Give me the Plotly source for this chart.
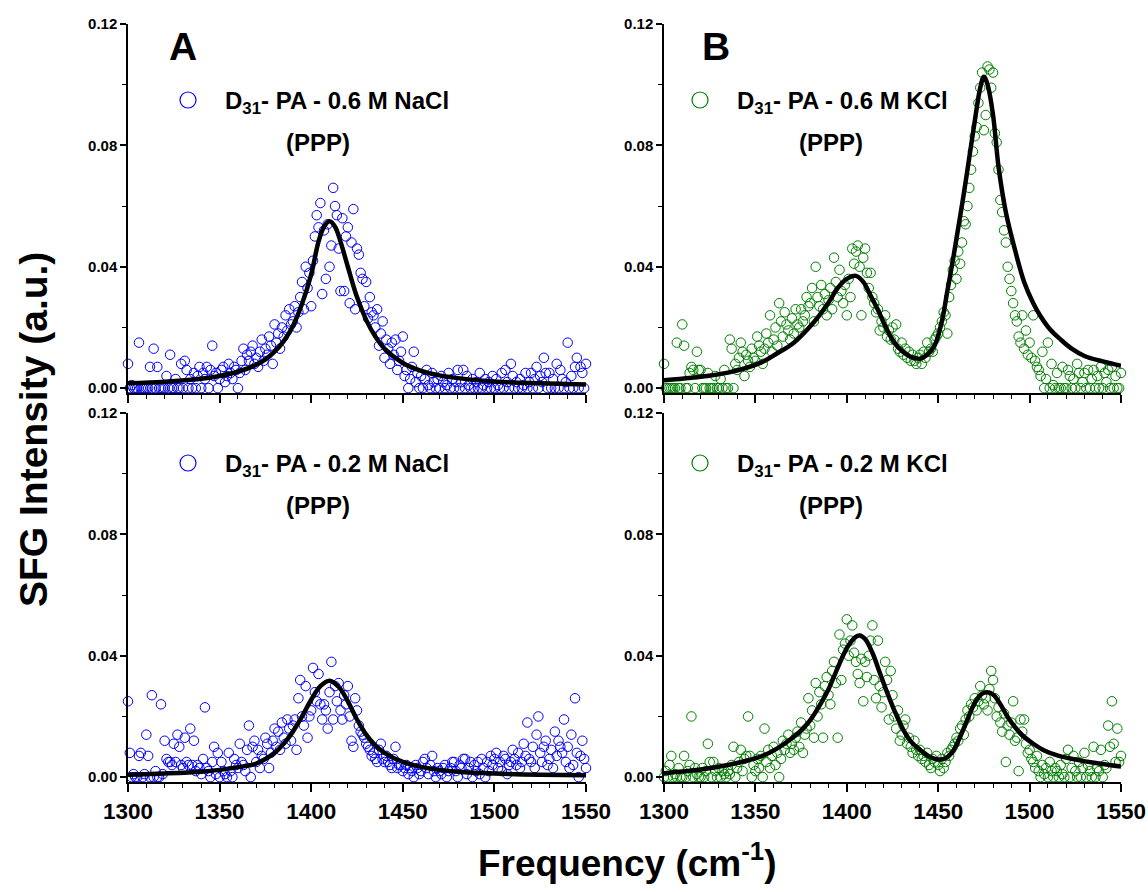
import numpy as np
import plotly.graph_objects as go

# SFG spectra, intensities in units of 1e-3 a.u., one point per cm-1 from 1300
nacl_06 = [
    8, 0, 1, 0, 0, 0, 15, 0, 0, 0,
    0, 0, 7, 0, 13, 0, 7, 0, 0, 0,
    0, 4, 0, 11, 0, 0, 3, 0, 0, 8,
    0, 9, 6, 0, 3, 0, 5, 0, 4, 7,
    0, 5, 3, 7, 0, 6, 14, 4, 5, 0,
    3, 6, 7, 2, 4, 8, 5, 3, 7, 6,
    0, 5, 9, 13, 6, 11, 9, 12, 14, 8,
    10, 7, 12, 16, 9, 13, 11, 17, 14, 8,
    21, 15, 18, 13, 20, 17, 24, 19, 26, 21,
    22, 27, 20, 25, 30, 35, 26, 40, 33, 38,
    27, 42, 50, 57, 53, 61, 31, 52, 36, 54,
    40, 47, 66, 60, 57, 46, 32, 56, 32, 50,
    53, 28, 48, 59, 26, 46, 44, 38, 36, 27,
    35, 23, 30, 25, 24, 20, 26, 14, 18, 22,
    10, 16, 13, 8, 15, 11, 16, 6, 9, 12,
    17, 4, 6, 0, 3, 7, 12, 2, 5, 0,
    4, 0, 3, 6, 1, 0, 5, 2, 0, 3,
    0, 4, 2, 0, 1, 5, 0, 3, 0, 2,
    6, 0, 2, 6, 0, 4, 1, 0, 3, 0,
    2, 0, 5, 0, 1, 3, 0, 2, 0, 4,
    0, 3, 1, 0, 5, 0, 6, 2, 0, 8,
    4, 0, 2, 0, 3, 0, 1, 5, 0, 2,
    5, 0, 3, 7, 0, 4, 2, 10, 5, 0,
    5, 0, 3, 0, 8, 0, 6, 3, 0, 2,
    15, 0, 4, 0, 7, 10, 0, 7, 5, 0,
    8,
]

kcl_06 = [
    8, 0, 0, 0, 0, 0, 0, 15, 0, 0,
    21, 14, 0, 0, 5, 7, 6, 0, 12, 6,
    6, 0, 0, 0, 5, 0, 0, 0, 4, 0,
    0, 3, 0, 6, 0, 0, 16, 13, 0, 8,
    6, 10, 15, 12, 4, 11, 9, 7, 13, 10,
    9, 17, 14, 12, 8, 13, 18, 15, 24, 12,
    16, 20, 14, 28, 22, 17, 25, 21, 19, 16,
    23, 18, 26, 21, 20, 26, 22, 24, 30, 27,
    28, 33, 22, 40, 30, 27, 34, 26, 31, 24,
    29, 33, 26, 43, 35, 30, 39, 32, 28, 34,
    24, 36, 30, 46, 41, 45, 47, 40, 24, 43,
    46, 38, 33, 38, 30, 28, 25, 26, 19, 22,
    20, 24, 17, 19, 16, 20, 16, 21, 13, 12,
    15, 11, 13, 10, 12, 9, 11, 9, 8, 10,
    11, 8, 12, 10, 15, 12, 13, 12, 16, 17,
    18, 20, 22, 25, 24, 18, 30, 34, 39, 42,
    36, 45, 41, 48, 55, 54, 60, 66, 72, 78,
    83, 86, 94, 99, 104, 85, 90, 106, 105, 99,
    104, 84, 81, 72, 62, 58, 52, 48, 40, 36,
    32, 28, 24, 22, 17, 15, 24, 13, 19, 11,
    15, 10, 24, 9, 7, 6, 4, 12, 0, 3,
    15, 0, 8, 1, 0, 5, 0, 0, 7, 0,
    0, 6, 4, 0, 3, 0, 8, 5, 0, 2,
    5, 0, 6, 0, 3, 6, 0, 4, 0, 7,
    0, 5, 2, 6, 0, 7, 0, 4, 0, 0,
    5,
]

nacl_02 = [
    25, 8, 0, 1, 0, 0, 7, 8, 0, 1,
    14, 7, 0, 27, 0, 2, 0, 0, 24, 1,
    12, 6, 5, 5, 4, 11, 5, 14, 10, 4,
    3, 13, 5, 4, 16, 4, 12, 2, 4, 3,
    1, 6, 23, 3, 2, 0, 5, 10, 1, 8,
    0, 5, 2, 1, 0, 8, 2, 0, 6, 4,
    3, 11, 5, 4, 2, 9, 17, 0, 10, 12,
    5, 9, 3, 7, 6, 13, 11, 3, 8, 12,
    16, 10, 15, 9, 18, 13, 11, 19, 16, 12,
    17, 19, 9, 26, 32, 20, 17, 30, 13, 20,
    22, 36, 28, 25, 34, 24, 19, 24, 22, 16,
    28, 38, 19, 30, 25, 31, 22, 19, 27, 24,
    30, 20, 12, 10, 26, 22, 17, 15, 14, 13,
    11, 10, 9, 7, 8, 6, 5, 9, 11, 6,
    5, 7, 5, 4, 3, 6, 10, 3, 4, 4,
    2, 3, 4, 1, 3, 2, 0, 4, 3, 1,
    2, 5, 6, 3, 1, 4, 7, 2, 0, 3,
    2, 1, 3, 4, 0, 2, 3, 5, 5, 2,
    0, 4, 3, 6, 6, 1, 3, 5, 0, 4,
    2, 5, 1, 6, 3, 0, 5, 2, 7, 4,
    6, 8, 3, 5, 2, 7, 6, 1, 4, 5,
    9, 6, 4, 8, 3, 5, 11, 7, 18, 6,
    5, 10, 3, 14, 20, 8, 5, 10, 12, 4,
    6, 9, 3, 15, 7, 12, 10, 8, 19, 5,
    10, 3, 14, 4, 26, 8, 0, 7, 12, 6,
    3,
]

kcl_02 = [
    0, 2, 0, 4, 7, 0, 1, 0, 3, 0,
    0, 7, 0, 2, 4, 20, 0, 3, 1, 0,
    0, 3, 0, 2, 11, 5, 0, 5, 2, 0,
    3, 0, 2, 1, 0, 2, 1, 4, 10, 0,
    3, 5, 9, 2, 6, 7, 20, 7, 0, 4,
    2, 6, 3, 7, 0, 16, 5, 9, 3, 7,
    10, 4, 8, 0, 6, 12, 9, 11, 14, 8,
    11, 9, 13, 15, 10, 18, 8, 14, 16, 26,
    17, 22, 13, 31, 20, 28, 24, 13, 30, 33,
    27, 24, 35, 38, 31, 13, 47, 32, 42, 44,
    52, 40, 45, 50, 41, 38, 34, 31, 39, 25,
    38, 33, 40, 45, 50, 32, 26, 45, 30, 23,
    28, 38, 32, 19, 35, 27, 20, 16, 22, 12,
    14, 17, 19, 11, 13, 10, 8, 12, 9, 7,
    9, 6, 7, 5, 8, 4, 3, 6, 5, 7,
    4, 2, 6, 3, 5, 8, 7, 9, 10, 11,
    13, 12, 16, 17, 14, 19, 22, 20, 24, 23,
    26, 22, 25, 30, 27, 24, 26, 22, 29, 35,
    32, 26, 20, 23, 18, 15, 21, 5, 17, 14,
    18, 25, 12, 13, 2, 19, 15, 19, 11, 8,
    9, 6, 5, 3, 7, 2, 0, 4, 1, 3,
    0, 5, 2, 0, 3, 2, 0, 4, 1, 0,
    6, 9, 0, 3, 7, 2, 0, 5, 0, 3,
    8, 0, 4, 2, 0, 10, 0, 3, 2, 9,
    0, 4, 3, 17, 10, 25, 11, 5, 16, 5,
    7,
]

# fitted curves
fit_nacl_06_x = [1300, 1320, 1340, 1350, 1360, 1370, 1375, 1380, 1385, 1390, 1395, 1400,
                 1404, 1407, 1410, 1413, 1416, 1420, 1425, 1430, 1435, 1440, 1450, 1460,
                 1470, 1480, 1500, 1525, 1550]
fit_nacl_06_y = [0.0016, 0.0021, 0.0031, 0.0040, 0.0054, 0.0077, 0.0095, 0.0120, 0.0155,
                 0.0205, 0.0278, 0.0375, 0.0483, 0.0532, 0.0550, 0.0532, 0.0483, 0.0400,
                 0.0300, 0.0225, 0.0170, 0.0130, 0.0083, 0.0057, 0.0042, 0.0033, 0.0022,
                 0.0016, 0.0012]

fit_kcl_06_x = [1300, 1315, 1335, 1353, 1362, 1371, 1380, 1385, 1390, 1395, 1400, 1405,
                1409, 1413, 1417, 1421, 1426, 1431, 1435, 1440, 1444, 1448, 1452, 1455,
                1458, 1461, 1464, 1467, 1470, 1473, 1475, 1477, 1480, 1483, 1487, 1492,
                1497, 1502, 1506, 1511, 1517, 1523, 1530, 1540, 1550]
fit_kcl_06_y = [0.0026, 0.0034, 0.0051, 0.0084, 0.0115, 0.0150, 0.0204, 0.0240, 0.0282,
                0.0330, 0.0360, 0.0370, 0.0350, 0.0305, 0.0258, 0.0205, 0.0150, 0.0118,
                0.0103, 0.0097, 0.0110, 0.0140, 0.0220, 0.0320, 0.0420, 0.0530, 0.0640,
                0.0760, 0.0880, 0.0990, 0.1026, 0.1000, 0.0900, 0.0730, 0.0580, 0.0456,
                0.0350, 0.0280, 0.0237, 0.0195, 0.0160, 0.0130, 0.0106, 0.0088, 0.0074]

fit_nacl_02_x = [1300, 1320, 1340, 1350, 1360, 1370, 1380, 1385, 1390, 1395, 1400, 1405,
                 1410, 1415, 1420, 1425, 1430, 1435, 1440, 1450, 1460, 1470, 1480, 1500,
                 1525, 1550]
fit_nacl_02_y = [0.0008, 0.0012, 0.0018, 0.0024, 0.0033, 0.0045, 0.0080, 0.0110, 0.0150,
                 0.0200, 0.0255, 0.0300, 0.0318, 0.0298, 0.0250, 0.0190, 0.0140, 0.0105,
                 0.0080, 0.0050, 0.0034, 0.0024, 0.0018, 0.0012, 0.0008, 0.0006]

fit_kcl_02_x = [1300, 1320, 1335, 1345, 1353, 1362, 1371, 1376, 1380, 1385, 1390, 1395,
                1400, 1404, 1407, 1410, 1414, 1418, 1422, 1426, 1431, 1435, 1440, 1445,
                1450, 1454, 1458, 1462, 1466, 1470, 1474, 1477, 1480, 1484, 1488, 1492,
                1496, 1502, 1508, 1516, 1526, 1538, 1550]
fit_kcl_02_y = [0.0013, 0.0025, 0.0040, 0.0054, 0.0068, 0.0095, 0.0133, 0.0160, 0.0188,
                0.0235, 0.0290, 0.0360, 0.0425, 0.0458, 0.0467, 0.0455, 0.0410, 0.0345,
                0.0280, 0.0220, 0.0155, 0.0118, 0.0090, 0.0068, 0.0058, 0.0062, 0.0085,
                0.0133, 0.0190, 0.0245, 0.0275, 0.0280, 0.0272, 0.0240, 0.0198, 0.0165,
                0.0138, 0.0110, 0.0088, 0.0070, 0.0057, 0.0045, 0.0035]

labels = ["D<sub>31</sub>- PA - 0.6 M NaCl", "D<sub>31</sub>- PA - 0.6 M KCl",
          "D<sub>31</sub>- PA - 0.2 M NaCl", "D<sub>31</sub>- PA - 0.2 M KCl"]
x_ticks = [1300, 1350, 1400, 1450, 1500, 1550]
y_ticks = [0.00, 0.04, 0.08, 0.12]

W, H = 1148, 892
def px(x): return x / W
def py(y): return 1 - y / H

BLUE, GREEN = "#0000ff", "#008000"
FONT = "Liberation Sans, Arial, sans-serif"

panels = [
    (nacl_06, fit_nacl_06_x, fit_nacl_06_y, BLUE),
    (kcl_06, fit_kcl_06_x, fit_kcl_06_y, GREEN),
    (nacl_02, fit_nacl_02_x, fit_nacl_02_y, BLUE),
    (kcl_02, fit_kcl_02_x, fit_kcl_02_y, GREEN),
]

fig = go.Figure()
for i, (data, fx, fy, col) in enumerate(panels):
    ax = "" if i == 0 else str(i + 1)
    freq = np.arange(1300, 1300 + len(data))
    fig.add_trace(go.Scatter(x=freq, y=np.array(data) / 1000, mode="markers",
                             marker=dict(symbol="circle-open", size=9.5, color=col, line=dict(width=1)),
                             cliponaxis=False, showlegend=False,
                             xaxis="x" + ax, yaxis="y" + ax))
    fig.add_trace(go.Scatter(x=fx, y=fy, mode="lines", line=dict(color="black", width=4.5, shape="spline"),
                             showlegend=False, xaxis="x" + ax, yaxis="y" + ax))

xdom = [[px(128), px(586)], [px(664), px(1121)]]
ydom = [[py(393), py(24)], [py(782), py(413)]]

def xstyle(dom, anchor, labels_on):
    return dict(domain=dom, anchor=anchor, range=[1300, 1550], tickmode="array", tickvals=x_ticks,
                showticklabels=labels_on, ticks="outside", ticklen=8, tickwidth=1.5, tickcolor="black",
                minor=dict(tick0=1300, dtick=10, ticks="outside", ticklen=4, tickwidth=1, tickcolor="black"),
                showline=True, linecolor="black", linewidth=1.5, showgrid=False, zeroline=False,
                automargin=False, ticklabeloverflow="allow",
                tickfont=dict(family=FONT, size=22.5, color="black", weight="bold"))

def ystyle(dom, anchor):
    return dict(domain=dom, anchor=anchor, range=[-0.0016, 0.12], tickmode="array", tickvals=y_ticks,
                tickformat=".2f", ticks="outside", ticklen=6, tickwidth=1.5, tickcolor="black",
                minor=dict(tick0=0, dtick=0.02, ticks="outside", ticklen=4, tickwidth=1, tickcolor="black"),
                showline=True, linecolor="black", linewidth=1.5, showgrid=False, zeroline=False,
                automargin=False,
                tickfont=dict(family=FONT, size=15, color="black", weight="bold"))

layout = dict(width=W, height=H, margin=dict(l=0, r=0, t=0, b=0), autosize=False,
              paper_bgcolor="white", plot_bgcolor="white")
for i in range(4):
    ax = "" if i == 0 else str(i + 1)
    layout["xaxis" + ax] = xstyle(xdom[i % 2], "y" + ax, i >= 2)
    layout["yaxis" + ax] = ystyle(ydom[i // 2], "x" + ax)
fig.update_layout(**layout)

def ann(text, x, y, size, xanchor="center"):
    fig.add_annotation(text=text, x=px(x), y=py(y), xref="paper", yref="paper", showarrow=False,
                       xanchor=xanchor, yanchor="middle",
                       font=dict(family=FONT, size=size, color="black", weight="bold"))

ann("A", 183, 47, 39)
ann("B", 716, 47, 39)

legend_pos = [(188, 223, 318, 100, 142), (700, 735, 831, 100, 142),
              (188, 223, 318, 463, 505), (700, 735, 831, 463, 505)]
for i, (cx, tx, ppx, ly, ply) in enumerate(legend_pos):
    col = panels[i][3]
    fig.add_shape(type="circle", xref="paper", yref="paper", xsizemode="pixel", ysizemode="pixel",
                  xanchor=px(cx), yanchor=py(ly), x0=-8, x1=8, y0=-8, y1=8,
                  line=dict(color=col, width=1.2))
    ann(labels[i], tx, ly + 2, 24, xanchor="left")
    ann("(PPP)", ppx, ply, 24)

ann("Frequency (cm<sup>-1</sup>)", 628, 860, 37)
fig.add_annotation(text="SFG Intensity (a.u.)", x=px(34), y=py(430), xref="paper", yref="paper",
                   showarrow=False, textangle=-90, xanchor="center", yanchor="middle",
                   font=dict(family=FONT, size=39, color="black", weight="bold"))

# the page's default 8px body margin would shift the 1148x892 figure
fig.write_html("out.html", config={"displayModeBar": False},
               post_script="document.body.style.margin='0';document.body.style.overflow='hidden';")
